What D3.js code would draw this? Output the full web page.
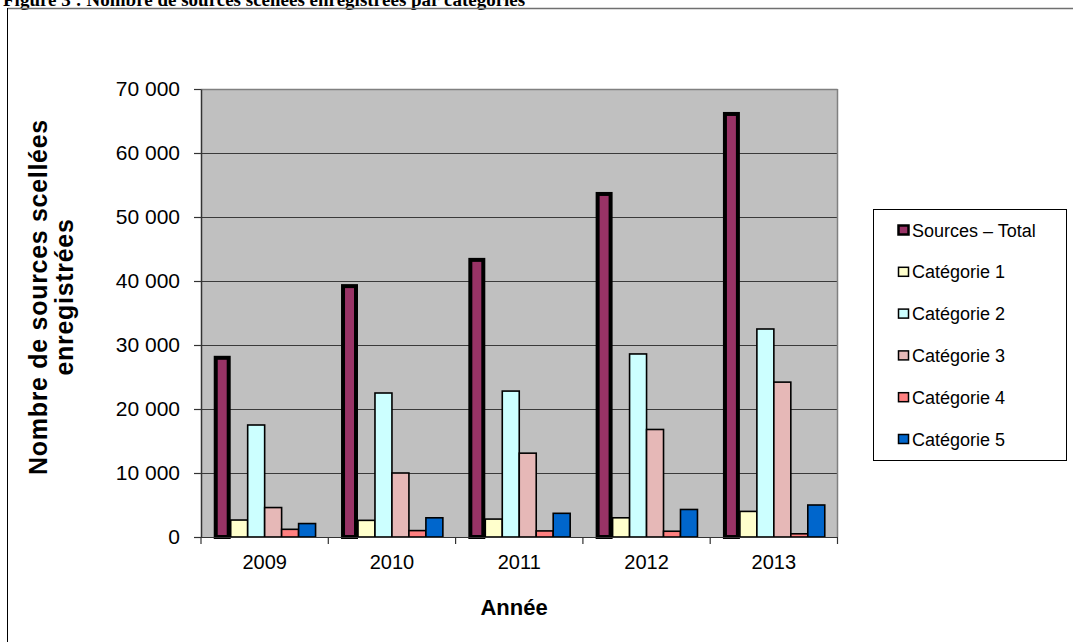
<!DOCTYPE html>
<html>
<head>
<meta charset="utf-8">
<script src="https://cdn.jsdelivr.net/npm/d3@7/dist/d3.min.js"></script>
<style>
html,body{margin:0;padding:0;background:#fff;overflow:hidden;}
svg{display:block;}
</style>
</head>
<body>
<svg id="chart" width="1074" height="642"></svg>
<script>
// ---- data ----
const years = ["2009", "2010", "2011", "2012", "2013"];
const seriesNames = ["Sources – Total", "Catégorie 1", "Catégorie 2", "Catégorie 3", "Catégorie 4", "Catégorie 5"];
const total = [28000, 39200, 43300, 53600, 66100];
const cat1 = [2650, 2600, 2800, 3000, 4000];
const cat2 = [17500, 22500, 22800, 28600, 32500];
const cat3 = [4600, 10000, 13100, 16800, 24200];
const cat4 = [1200, 1000, 950, 900, 500];
const cat5 = [2100, 3000, 3700, 4300, 5000];
const yTicks = [0, 10000, 20000, 30000, 40000, 50000, 60000, 70000];
const seriesColors = ["#993366", "#FFFFCC", "#CCFFFF", "#E6B8B7", "#FF8080", "#0066CC"];
const titleText = "Figure 3 : Nombre de sources scellées enregistrées par catégories";
const yTitle = ["Nombre de sources scellées", "enregistrées"];
const xTitle = "Année";

const seriesValues = [total, cat1, cat2, cat3, cat4, cat5];

(function () {
const svg = d3.select("#chart");

// page title (clipped at top, as in the source page) and frame
svg.append("text")
  .attr("x", 3).attr("y", 6)
  .attr("font-family", "Liberation Serif, Times New Roman, serif")
  .attr("font-weight", "bold").attr("font-size", 19)
  .attr("fill", "#000")
  .text(titleText);
svg.append("line").attr("x1", 7.5).attr("x2", 1073).attr("y1", 8.5).attr("y2", 8.5)
  .attr("stroke", "#707070").attr("stroke-width", 1.5);
svg.append("line").attr("x1", 7.5).attr("x2", 7.5).attr("y1", 8).attr("y2", 642)
  .attr("stroke", "#000").attr("stroke-width", 1);

// plot area
const pLeft = 201, pRight = 837.5, pTop = 89, pBottom = 537;
const x0 = d3.scaleBand().domain(years).range([pLeft, pRight]).padding(0);
const x1 = d3.scaleBand().domain(seriesNames).range([0, x0.bandwidth()]).paddingInner(0).paddingOuter(0.75);
const y = d3.scaleLinear().domain([0, 70000]).range([pBottom, pTop]);

svg.append("rect").attr("x", pLeft).attr("y", pTop).attr("width", pRight - pLeft).attr("height", pBottom - pTop)
  .attr("fill", "#C0C0C0");

// gridlines
svg.append("g").selectAll("line").data(yTicks.filter(d => d > 0)).join("line")
  .attr("x1", pLeft).attr("x2", pRight)
  .attr("y1", d => Math.round(y(d)) + 0.5).attr("y2", d => Math.round(y(d)) + 0.5)
  .attr("stroke", d => d === 70000 ? "#808080" : "#3a3a3a").attr("stroke-width", d => d === 70000 ? 1.5 : 1.2);
// right border
svg.append("line").attr("x1", pRight).attr("x2", pRight).attr("y1", pTop).attr("y2", pBottom)
  .attr("stroke", "#808080").attr("stroke-width", 1.5);

// y axis
const loc = d3.formatLocale({decimal: ",", thousands: " ", grouping: [3], currency: ["", " €"]});
const fmt = loc.format(",d");
const yAxis = d3.axisLeft(y).tickValues(yTicks).tickFormat(fmt).tickSizeInner(7).tickSizeOuter(0).tickPadding(14);
const yg = svg.append("g").attr("transform", `translate(${pLeft},0)`).call(yAxis);
yg.select(".domain").attr("stroke", "#333").attr("stroke-width", 1.5);
yg.selectAll(".tick line").attr("stroke", "#333").attr("stroke-width", 1.2);
yg.selectAll("text").attr("font-family", "Liberation Sans, Arial, sans-serif").attr("font-size", 21).attr("fill", "#000");

// x axis labels
const xAxis = d3.axisBottom(x0).tickSize(0).tickPadding(18);
const xg = svg.append("g").attr("transform", `translate(0,${pBottom})`).call(xAxis);
xg.select(".domain").remove();
xg.selectAll("text").attr("font-family", "Liberation Sans, Arial, sans-serif").attr("font-size", 20).attr("fill", "#000");
// x boundary ticks
const bounds = years.map(yv => x0(yv)).concat([x0(years[years.length - 1]) + x0.bandwidth()]);
svg.append("g").selectAll("line").data(bounds).join("line")
  .attr("x1", d => d).attr("x2", d => d).attr("y1", pBottom).attr("y2", pBottom + 7)
  .attr("stroke", "#333").attr("stroke-width", 1.2);

// bars
const groups = svg.append("g").selectAll("g").data(years).join("g")
  .attr("transform", d => `translate(${x0(d)},0)`);
groups.selectAll("rect").data((yr, yi) => seriesNames.map((s, si) => ({s, si, v: seriesValues[si][yi]})))
  .join("rect")
  .attr("x", d => x1(d.s) + (d.si === 0 ? 2 : 0))
  .attr("width", d => x1.bandwidth() - (d.si === 0 ? 4 : 0))
  .attr("y", d => y(d.v))
  .attr("height", d => y(0) - y(d.v))
  .attr("fill", d => seriesColors[d.si])
  .attr("stroke", "#000")
  .attr("stroke-width", d => d.si === 0 ? 4 : 1.6);

// bottom axis line
svg.append("line").attr("x1", pLeft).attr("x2", pRight).attr("y1", pBottom + 0.5).attr("y2", pBottom + 0.5)
  .attr("stroke", "#333").attr("stroke-width", 1.2);

// axis titles
const yt = svg.append("text")
  .attr("transform", "translate(47,297) rotate(-90)")
  .attr("text-anchor", "middle")
  .attr("font-family", "Liberation Sans, Arial, sans-serif")
  .attr("font-weight", "bold").attr("font-size", 25).attr("letter-spacing", 0.7).attr("fill", "#000");
yt.append("tspan").attr("x", 0).attr("y", 0).text(yTitle[0]);
yt.append("tspan").attr("x", 0).attr("y", 26).text(yTitle[1]);

svg.append("text").attr("x", 514).attr("y", 615).attr("text-anchor", "middle")
  .attr("font-family", "Liberation Sans, Arial, sans-serif")
  .attr("font-weight", "bold").attr("font-size", 22).attr("fill", "#000")
  .text(xTitle);

// legend
const lg = svg.append("g");
lg.append("rect").attr("x", 873.5).attr("y", 209.5).attr("width", 193).attr("height", 251)
  .attr("fill", "#fff").attr("stroke", "#000").attr("stroke-width", 1);
const items = lg.selectAll("g.item").data(seriesNames).join("g").attr("class", "item")
  .attr("transform", (d, i) => `translate(0,${230 + i * 41.8})`);
items.append("rect").attr("x", 898.5).attr("y", -4.5).attr("width", 10).attr("height", 9)
  .attr("fill", (d, i) => seriesColors[i]).attr("stroke", "#000")
  .attr("stroke-width", (d, i) => i === 0 ? 2.5 : 1.5);
items.append("text").attr("x", 912).attr("y", 6.5)
  .attr("font-family", "Liberation Sans, Arial, sans-serif").attr("font-size", 18).attr("fill", "#000")
  .text(d => d);
})();
</script>
</body>
</html>
